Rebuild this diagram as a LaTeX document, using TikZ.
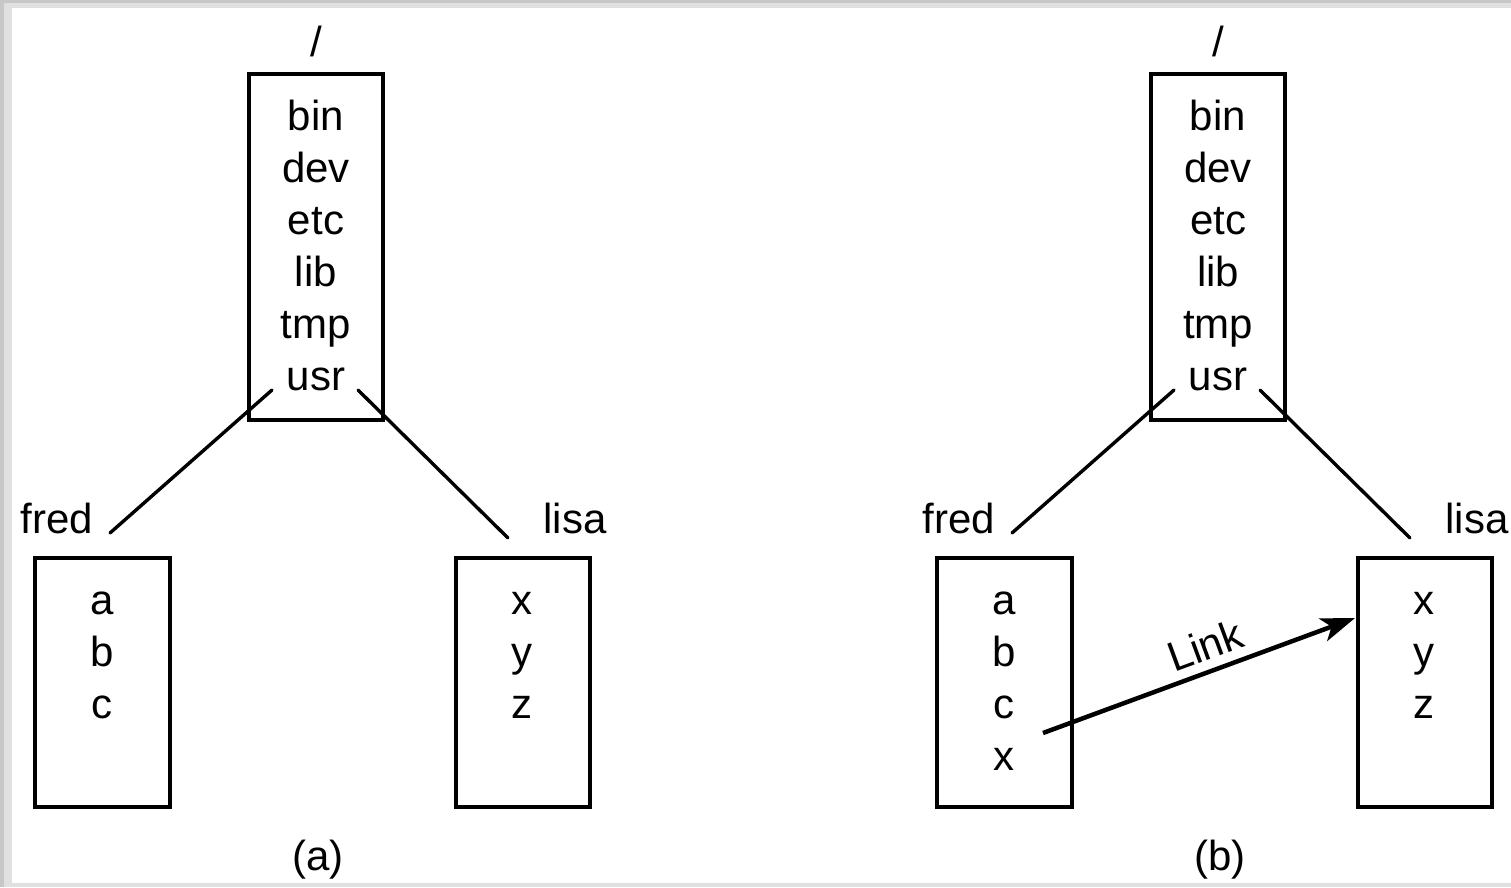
\documentclass[tikz,border=0pt]{standalone}
\usepackage{fontspec}
\setmainfont{Liberation Sans}
\usetikzlibrary{arrows.meta}
\begin{document}
\begin{tikzpicture}[x=1pt,y=-1pt,
  lbl/.style={inner sep=0pt,anchor=base,font=\fontsize{42}{50}\selectfont},
  conn/.style={line width=3.4pt,line cap=round},
  boxline/.style={line width=4pt},
  linkarrow/.style={line width=4.5pt,-{Stealth[length=34pt,width=24pt,inset=9pt]}}]
% background with grey frame
\fill[black!22] (0,0) rectangle (1511,887);
\fill[black!12] (4,3) rectangle (1511,887);
\fill[white] (12,8) rectangle (1511,883);
\useasboundingbox (0,0) rectangle (1511,887);

\foreach \p/\dx/\cap in {a/0/(a),b/902/(b)}{
  \begin{scope}[xshift=\dx pt]
  % root directory
  \node[lbl] (\p slash) at (316,56) {/};
  \draw[boxline] (249,74) rectangle (383,420);
  \node[minimum width=134pt,minimum height=346pt,anchor=north west,inner sep=0pt] (\p root) at (249,74) {};
  \node[lbl] (\p bin) at (316,130) {bin};
  \node[lbl] (\p dev) at (316,182) {dev};
  \node[lbl] (\p etc) at (316,234) {etc};
  \node[lbl] (\p lib) at (316,286) {lib};
  \node[lbl] (\p tmp) at (316,338) {tmp};
  \node[lbl] (\p usr) at (316,390) {usr};
  % fred
  \node[lbl] (\p fredl) at (57,533) {fred};
  \node[minimum width=135pt,minimum height=249pt,anchor=north west,inner sep=0pt] (\p fred) at (35,558) {};
  \draw[boxline] (35,558) rectangle (170,807);
  \node[lbl] (\p fa) at (102,614) {a};
  \node[lbl] (\p fb) at (102,666) {b};
  \node[lbl] (\p fc) at (102,718) {c};
  % lisa
  \node[lbl] (\p lisal) at (575,533) {lisa};
  \node[minimum width=134pt,minimum height=249pt,anchor=north west,inner sep=0pt] (\p lisa) at (456,558) {};
  \draw[boxline] (456,558) rectangle (590,807);
  \node[lbl] (\p lx) at (522,614) {x};
  \node[lbl] (\p ly) at (522,666) {y};
  \node[lbl] (\p lz) at (522,718) {z};
  % connectors
  \coordinate (\p s1) at (272,390);
  \coordinate (\p e1) at (110,533);
  \coordinate (\p s2) at (358,390);
  \coordinate (\p e2) at (508,538);
  \draw[conn] (\p s1) -- (\p e1);
  \draw[conn] (\p s2) -- (\p e2);
  \node[lbl] (\p cap) at (318,870) {\cap};
  \end{scope}
}
% link in (b)
\node[lbl] (bfx) at (1004,770) {x};
\coordinate (lstart) at (1043,733);
\coordinate (lend) at (1355,618);
\draw[linkarrow] (lstart) -- (lend);
\node[inner sep=0pt,rotate=20.2] (linklbl) at (1205,645) {\fontsize{42}{50}\selectfont Link};
\end{tikzpicture}
\end{document}
